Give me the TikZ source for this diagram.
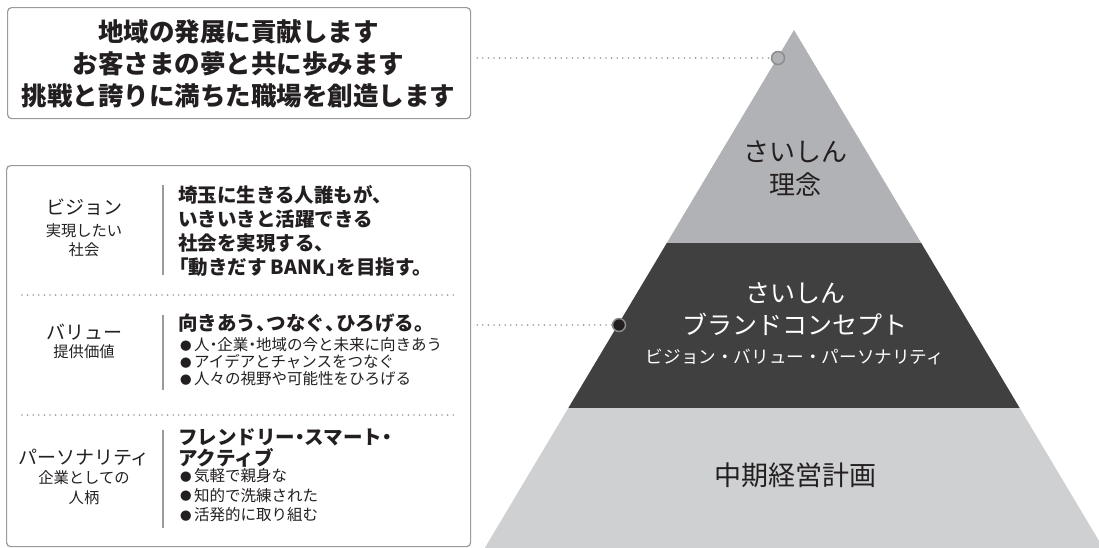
\documentclass[tikz,border=0pt]{standalone}
\usepackage{fontspec}
\setmainfont{Noto Sans CJK JP}
\definecolor{ink}{HTML}{231F20}
\definecolor{boxgray}{HTML}{9A9A9C}
\definecolor{dotgray}{HTML}{9A9A9C}
\definecolor{bargray}{HTML}{9A9A9C}
\definecolor{tiertop}{HTML}{B1B2B5}
\definecolor{tiermid}{HTML}{404040}
\definecolor{tierbot}{HTML}{CFD0D2}
\definecolor{circgray}{HTML}{8C8C8E}
\newcommand\bul{\raisebox{0.6pt}{\fontsize{11.5}{11.5}\selectfont ●}\hspace{2.5pt}}
\newcommand\fs[2]{\fontsize{#1}{#2}\selectfont}
\newcommand\tc{\makebox[0.55em][l]{、}}
\newcommand\nd{\makebox[0.5em][c]{・}}
\newcommand\jlq{\makebox[0.55em][r]{「}}
\newcommand\jrq{\makebox[0.55em][l]{」}}
\tikzset{
  panel/.style={draw=boxgray, line width=1.2pt, rounded corners=4pt, inner sep=0pt},
  dotline/.style={draw=dotgray, line width=1.8pt, line cap=round, dash pattern=on 0pt off 5.6pt},
  bar/.style={draw=bargray, line width=2pt},
  txt/.style={inner sep=0pt, text=ink},
  lbl/.style={txt, align=center, font=\fs{19}{22}},
  sublbl/.style={txt, align=center, font=\fs{15.3}{19.5}},
  head/.style={txt, align=left, anchor=west, font=\fs{19.5}{24.3}\bfseries},
  bullets/.style={txt, align=left, anchor=west, font=\fs{15.5}{17}},
  pin/.style={circle, minimum size=13pt, inner sep=0pt, draw=circgray, line width=1.5pt},
}
\begin{document}
\begin{tikzpicture}[x=1pt,y=-1pt]
\useasboundingbox (0,0) rectangle (1099,547);

% pyramid
\begin{scope}
\clip (0,0) rectangle (1099,547);
\fill[tiertop] (794,30) -- (921.2,243) -- (666.8,243) -- cycle;
\fill[tiermid] (666.8,243) -- (921.2,243) -- (1019.7,408) -- (568.3,408) -- cycle;
\fill[tierbot] (568.3,408) -- (1019.7,408) -- (1110.4,560) -- (477.6,560) -- cycle;
\end{scope}
\node[txt, align=center, font=\fs{26}{33}] (rinen) at (795,168.5) {さいしん\\理念};
\node[txt, align=center, text=white, font=\fs{25}{32}] (brand) at (795,309) {さいしん\\ブランドコンセプト};
\node[txt, text=white, font=\fs{17.6}{20}] (brandsub) at (795,357) {ビジョン・バリュー・パーソナリティ};
\node[txt, font=\fs{27}{30}] (plan) at (795,475) {中期経営計画};

% mission box
\node[panel, minimum width=463pt, minimum height=111pt, anchor=north west] (topbox) at (7,7) {};
\node[txt, align=center, font=\fs{25.5}{32}\bfseries] (mission) at (238.5,64) {地域の発展に貢献します\\お客さまの夢と共に歩みます\\挑戦と誇りに満ちた職場を創造します};

% left box
\node[panel, minimum width=464pt, minimum height=381pt, anchor=north west] (leftbox) at (6,165) {};
\draw[dotline] (22,295) -- (455,295);
\draw[dotline] (22,415) -- (455,415);

% vision
\node[lbl] (vision) at (84,207) {ビジョン};
\node[sublbl] (visionsub) at (84,240) {実現したい\\社会};
\draw[bar] (163,185) -- (163,275);
\node[head] (visiontxt) at (178,231) {埼玉に生きる人誰もが\tc\\いきいきと活躍できる\\社会を実現する\tc\\\jlq 動きだす\hspace{4pt}BANK\jrq を目指す。};

% value
\node[lbl] (value) at (84,332) {バリュー};
\node[sublbl] (valuesub) at (84,352) {提供価値};
\draw[bar] (163,315) -- (163,390);
\node[head] (valuehead) at (178,323) {向きあう\tc つなぐ\tc ひろげる。};
\node[bullets] (valuelist) at (180,362) {\bul 人\nd 企業\nd 地域の今と未来に向きあう\\\bul アイデアとチャンスをつなぐ\\\bul 人々の視野や可能性をひろげる};

% personality
\node[lbl] (person) at (84,458) {パーソナリティ};
\node[sublbl] (personsub) at (84,487.5) {企業としての\\人柄};
\draw[bar] (163,430) -- (163,528);
\node[head, font=\fs{19.5}{20.5}\bfseries] (personhead) at (178,448) {フレンドリー\nd スマート\nd\\アクティブ};
\node[bullets, font=\fs{15.5}{19.5}] (personlist) at (180,495.5) {\bul 気軽で親身な\\\bul 知的で洗練された\\\bul 活発的に取り組む};

% pins and connectors
\node[pin, fill=tiertop] (c1) at (778,58) {};
\node[pin, fill=ink] (c2) at (619,325) {};
\draw[dotline] ([xshift=6pt]topbox.east |- c1) -- (c1.west);
\draw[dotline] ([xshift=6pt]leftbox.east |- c2) -- (c2.west);
\end{tikzpicture}
\end{document}
